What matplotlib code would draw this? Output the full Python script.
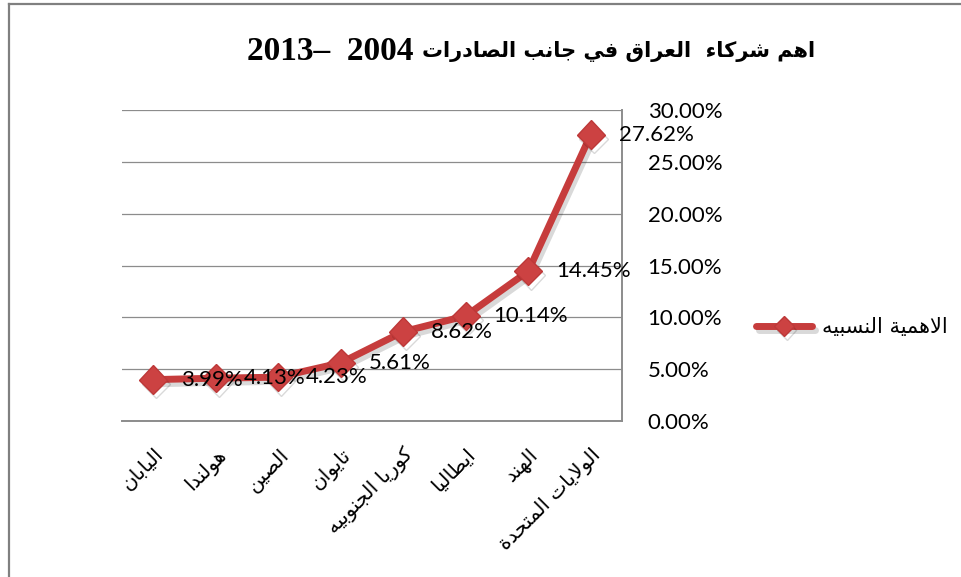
import matplotlib
matplotlib.use('Agg')
import matplotlib.pyplot as plt
import matplotlib.patheffects as pe
from matplotlib.lines import Line2D
from matplotlib.ticker import FuncFormatter

# Arabic presentation forms: isolated, final, initial, medial
FORMS = {
    'ا': ('\uFE8D', '\uFE8E', None, None),
    'ب': ('\uFE8F', '\uFE90', '\uFE91', '\uFE92'),
    'ة': ('\uFE93', '\uFE94', None, None),
    'ت': ('\uFE95', '\uFE96', '\uFE97', '\uFE98'),
    'ج': ('\uFE9D', '\uFE9E', '\uFE9F', '\uFEA0'),
    'ح': ('\uFEA1', '\uFEA2', '\uFEA3', '\uFEA4'),
    'د': ('\uFEA9', '\uFEAA', None, None),
    'ر': ('\uFEAD', '\uFEAE', None, None),
    'س': ('\uFEB1', '\uFEB2', '\uFEB3', '\uFEB4'),
    'ش': ('\uFEB5', '\uFEB6', '\uFEB7', '\uFEB8'),
    'ص': ('\uFEB9', '\uFEBA', '\uFEBB', '\uFEBC'),
    'ط': ('\uFEC1', '\uFEC2', '\uFEC3', '\uFEC4'),
    'ع': ('\uFEC9', '\uFECA', '\uFECB', '\uFECC'),
    'ف': ('\uFED1', '\uFED2', '\uFED3', '\uFED4'),
    'ق': ('\uFED5', '\uFED6', '\uFED7', '\uFED8'),
    'ك': ('\uFED9', '\uFEDA', '\uFEDB', '\uFEDC'),
    'ل': ('\uFEDD', '\uFEDE', '\uFEDF', '\uFEE0'),
    'م': ('\uFEE1', '\uFEE2', '\uFEE3', '\uFEE4'),
    'ن': ('\uFEE5', '\uFEE6', '\uFEE7', '\uFEE8'),
    'ه': ('\uFEE9', '\uFEEA', '\uFEEB', '\uFEEC'),
    'و': ('\uFEED', '\uFEEE', None, None),
    'ي': ('\uFEF1', '\uFEF2', '\uFEF3', '\uFEF4'),
    'ء': ('\uFE80', None, None, None),
}


def ar(text):
    # join letters and return in visual (left to right) order
    chars = list(text)
    n = len(chars)
    out = []
    prev_joins = False
    i = 0
    while i < n:
        c = chars[i]
        if c not in FORMS:
            out.append(c)
            prev_joins = False
            i += 1
            continue
        can_prev = prev_joins and FORMS[c][1] is not None
        if c == 'ل' and i + 1 < n and chars[i + 1] == 'ا':
            out.append('\uFEFC' if can_prev else '\uFEFB')
            prev_joins = False
            i += 2
            continue
        nxt = chars[i + 1] if i + 1 < n else None
        can_next = FORMS[c][2] is not None and nxt in FORMS and FORMS[nxt][1] is not None
        iso, fin, ini, med = FORMS[c]
        if can_prev and can_next:
            g = med
        elif can_prev:
            g = fin
        elif can_next:
            g = ini
        else:
            g = iso
        out.append(g)
        prev_joins = can_next
        i += 1
    return ''.join(reversed(out))


countries = ['اليابان', 'هولندا', 'الصين', 'تايوان', 'كوريا الجنوبيه',
             'ايطاليا', 'الهند', 'الولايات المتحدة']
share = [3.99, 4.13, 4.23, 5.61, 8.62, 10.14, 14.45, 27.62]
series_name = 'الاهمية النسبيه'
title_ar = 'اهم شركاء  العراق في جانب الصادرات'
title_years = '2013–  2004'
yticks = [0, 5, 10, 15, 20, 25, 30]

RED = '#C63C3C'
GRID = '#8C8C8C'

W, H = 961, 577
fig = plt.figure(figsize=(W / 100, H / 100), dpi=100)
ax = fig.add_axes([122 / W, 1 - 421 / H, 500 / W, 311 / H])

x = list(range(len(countries)))
ax.plot(x, share, color=RED, lw=5, marker='D', ms=14.5, mfc='#CC4242', mec='#BD3838',
        solid_capstyle='round', solid_joinstyle='round', zorder=3,
        path_effects=[pe.SimpleLineShadow(offset=(2, -3), alpha=0.15), pe.Normal()],
        label=ar(series_name))

for xi, v in zip(x, share):
    ax.annotate(f'{v:.2f}%', (xi, v), xytext=(20, 0), textcoords='offset points',
                ha='left', va='center', fontsize=16, family='Lato', zorder=4)

ax.set_xlim(-0.5, len(countries) - 0.5)
ax.set_ylim(0, 30)
ax.set_yticks(yticks)
ax.yaxis.set_major_formatter(FuncFormatter(lambda v, p: f'{v:.2f}%'))
ax.yaxis.tick_right()
ax.tick_params(axis='y', length=0, pad=18.5, labelsize=16)
for lab in ax.get_yticklabels():
    lab.set_family('Lato')
    lab.set_horizontalalignment('left')
ax.grid(axis='y', color=GRID, lw=0.9)
ax.set_axisbelow(True)

ax.set_xticks(x)
ax.set_xticklabels([ar(c) for c in countries], rotation=45, ha='right', va='top',
                   rotation_mode='anchor', fontsize=14.5, family='DejaVu Sans')
ax.tick_params(axis='x', length=0, pad=17)

for s in ['left', 'top']:
    ax.spines[s].set_visible(False)
for s in ['right', 'bottom']:
    ax.spines[s].set_color(GRID)
    ax.spines[s].set_linewidth(1.4)

# title: Arabic part right-aligned, years placed to its left
t_ar = fig.text(815 / W, 1 - 52 / H, ar(title_ar), ha='right', va='center',
                fontsize=15, fontweight='bold', family='DejaVu Sans')
fig.canvas.draw()
bb = t_ar.get_window_extent()
fig.text((bb.x0 - 8) / W, 1 - 51 / H, title_years, ha='right', va='center',
         fontsize=24, fontweight='bold', family='Liberation Serif')

leg = ax.legend(loc='center left', bbox_to_anchor=(737 / W, 1 - 327 / H),
                bbox_transform=fig.transFigure, frameon=False, handlelength=2.7,
                handletextpad=0.5, prop={'family': 'DejaVu Sans', 'size': 15})
leg.legend_handles[0].set_markersize(10)

# chart border (left and top edges visible)
fig.add_artist(Line2D([9 / W, 9 / W], [0, 1 - 4 / H], transform=fig.transFigure,
                      color='#808080', lw=1.6))
fig.add_artist(Line2D([9 / W, 1], [1 - 4 / H, 1 - 4 / H], transform=fig.transFigure,
                      color='#808080', lw=1.6))

fig.savefig('out.png', dpi=100)
